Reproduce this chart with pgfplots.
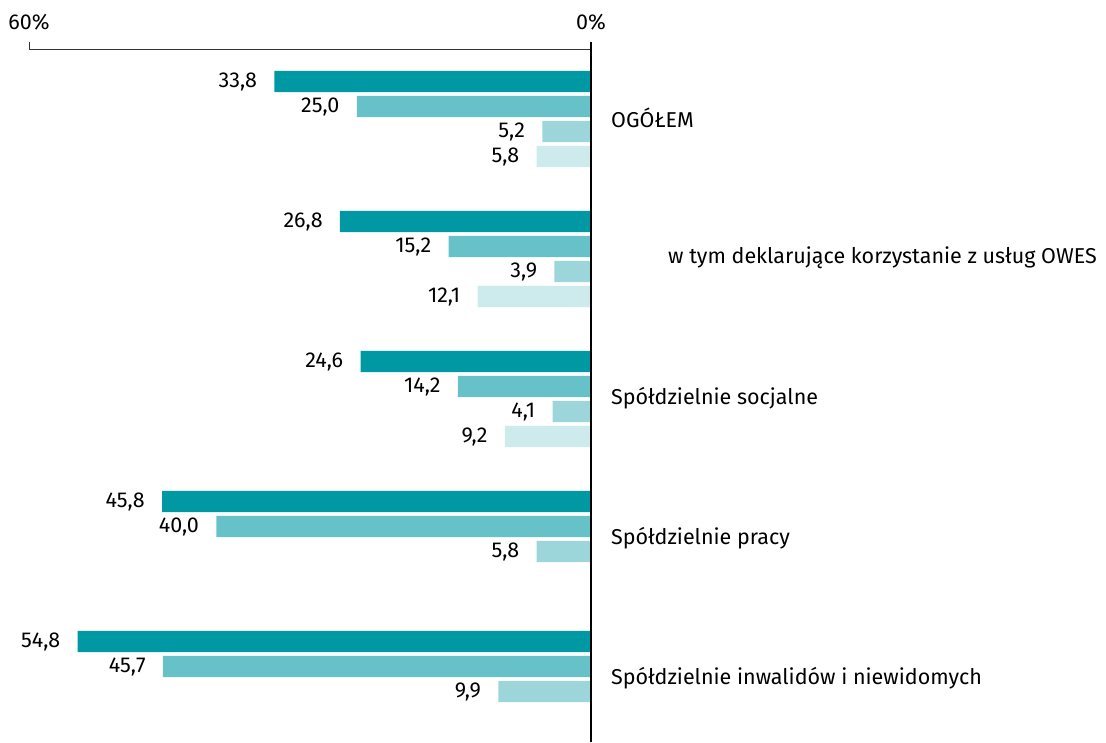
\documentclass[border=0pt]{standalone}
\usepackage{fontspec}
\setmainfont{Fira Sans}
\usepackage{pgfplots}
\pgfplotsset{compat=1.18}

\definecolor{c1}{HTML}{0099A3}
\definecolor{c2}{HTML}{66C1C9}
\definecolor{c3}{HTML}{9CD6DA}
\definecolor{c4}{HTML}{CDEBED}

\begin{document}
\fontsize{21.5}{25}\selectfont
\begin{tikzpicture}[font=\fontsize{21.5}{25}\selectfont]
\useasboundingbox (0,0) rectangle (1106pt,742pt);
\begin{axis}[
  at={(29pt,0pt)}, anchor=south west,
  scale only axis, width=562pt, height=742pt,
  xmin=0, xmax=60, x dir=reverse,
  ymin=0, ymax=742, y dir=reverse,
  axis lines=none, clip=false,
  xbar, bar width=21.3, bar shift=0pt,
  every axis plot/.append style={draw=none},
  nodes near coords,
  every node near coord/.append style={anchor=east, xshift=-10pt, yshift=-1pt, black, font=\fontsize{21.5}{25}\selectfont},
  /pgf/number format/fixed,
  /pgf/number format/fixed zerofill,
  /pgf/number format/precision=1,
  /pgf/number format/use comma,
  /pgf/number format/assume math mode=true,
]
% darkest series
\addplot[fill=c1] coordinates {(33.8,81.4) (26.8,221.4) (24.6,361.4) (45.8,501.4) (54.8,641.4)};
\addplot[fill=c2] coordinates {(25.0,106.4) (15.2,246.4) (14.2,386.4) (40.0,526.4) (45.7,666.4)};
\addplot[fill=c3] coordinates {(5.2,131.4) (3.9,271.4) (4.1,411.4) (5.8,551.4) (9.9,691.4)};
\addplot[fill=c4] coordinates {(5.8,156.4) (12.1,296.4) (9.2,436.4)};

% axis lines
\draw[black!80, line width=0.9pt] (axis cs:60,42) -- (axis cs:60,49) -- (axis cs:0,49);
\draw[black, line width=1.1pt] (axis cs:0,42) -- (axis cs:0,742);
\node at (axis cs:60,22) {60\%};
\node at (axis cs:0,22) {0\%};

% group labels
\node[anchor=west, inner sep=0pt] at ([xshift=20pt]axis cs:0,118) {OGÓŁEM};
\node[anchor=west, inner sep=0pt] at ([xshift=77pt]axis cs:0,258) {w tym deklarujące korzystanie z usług OWES};
\node[anchor=west, inner sep=0pt] at ([xshift=20pt]axis cs:0,398) {Spółdzielnie socjalne};
\node[anchor=west, inner sep=0pt] at ([xshift=20pt]axis cs:0,538) {Spółdzielnie pracy};
\node[anchor=west, inner sep=0pt] at ([xshift=20pt]axis cs:0,678) {Spółdzielnie inwalidów i niewidomych};
\end{axis}
\end{tikzpicture}
\end{document}
